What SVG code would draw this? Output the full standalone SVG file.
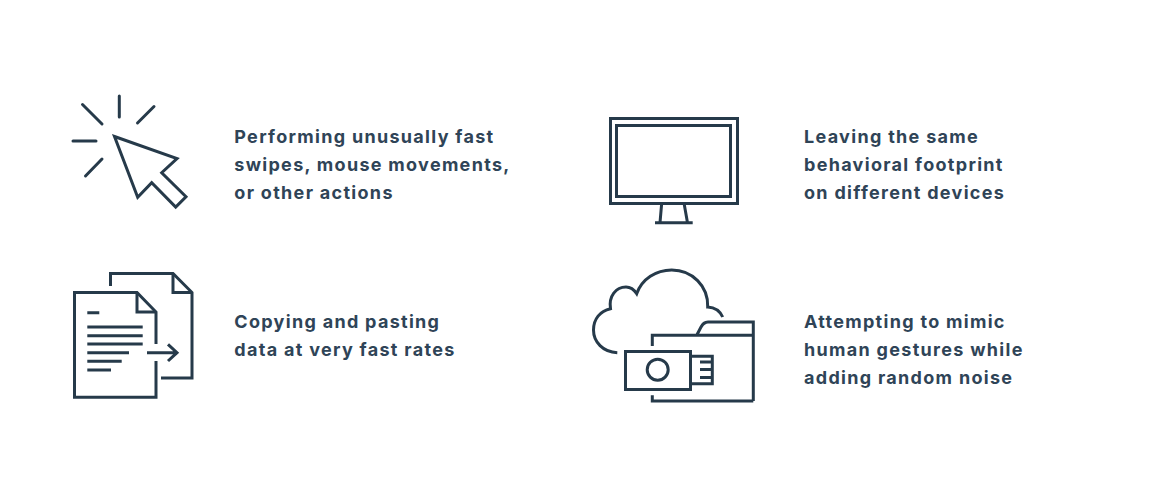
<svg xmlns="http://www.w3.org/2000/svg" width="1149" height="482" viewBox="0 0 1149 482">
<style>
.i{fill:none;stroke:#263a4a;stroke-width:3;stroke-linecap:butt;stroke-linejoin:miter}
.r{stroke-linecap:round}
text{font-family:"Inter","Liberation Sans",sans-serif;font-weight:700;font-size:18px;letter-spacing:1.3px;fill:#2f4457}
</style>
<rect width="1149" height="482" fill="#fff"/>
<g id="node-cursor">
<path class="i" d="M114.500 136.500L177 158.500L161.700 172.700L186 196.700L175.700 207L151.700 182.700L137.700 197.300Z"/>
<path class="i r" d="M119.300 96V117M82.500 104.500L102 124M137.500 123L154 106.500M73 141H96M85.500 176L102 159"/>
<text x="234.300" y="143">Performing unusually fast</text>
<text x="234.300" y="171">swipes, mouse movements,</text>
<text x="234.300" y="199">or other actions</text>
</g>
<g id="node-monitor">
<rect class="i" x="610.500" y="118.500" width="127" height="85"/>
<rect class="i" x="616.500" y="125.500" width="114" height="71"/>
<path class="i" d="M661.700 203L660 222.700M684 203L687.500 222.700M655 222.700H692.700"/>
<text x="804" y="143">Leaving the same</text>
<text x="804" y="171">behavioral footprint</text>
<text x="804" y="199">on different devices</text>
</g>
<g id="node-documents">
<path class="i" d="M110.500 286V273.500H173L192 292.500V378H161"/>
<path class="i" d="M173 273.500V292.500H192"/>
<path class="i" d="M156 344V312L137 292.500H74.500V397.300H156V361"/>
<path class="i" d="M137 292.500V312H156"/>
<path class="i" d="M87.300 312.700H99.300M87.300 327H142.700M87.300 335.700H142.700M87.300 344H142.700M87.300 352.700H129M87.300 361.300H121.700M87.300 370H111"/>
<path class="i" d="M147 352.700H177M168 344.300L177 352.700L168 361"/>
<text x="234.300" y="328">Copying and pasting</text>
<text x="234.300" y="356">data at very fast rates</text>
</g>
<g id="node-cloud-folder">
<path class="i" d="M617.300 352.700C603 352 593.500 342 593.500 330C593.500 319 600 311 610.500 308.700C608.500 296 616 287 626 287C631 287 634 289.500 636.700 293.700C642 279 656 270 671.700 270C692 270 708.500 286 707.700 307C715 307.500 720 311 722.700 317"/>
<path class="i" d="M652.300 346V335.300H753.300M753.300 401V322H708C704 322 703 324 701 327L696.700 335.300M652.300 395.300V401H753.300"/>
<rect class="i" x="625.500" y="351.500" width="65" height="38"/>
<circle class="i" cx="657.700" cy="369.700" r="10.500"/>
<path class="i" d="M690.700 356.300H712.300V383.700H690.700M700 362H712.300M700 369.500H712.300M700 377.500H712.300"/>
<text x="804" y="328">Attempting to mimic</text>
<text x="804" y="356">human gestures while</text>
<text x="804" y="384">adding random noise</text>
</g>
</svg>
